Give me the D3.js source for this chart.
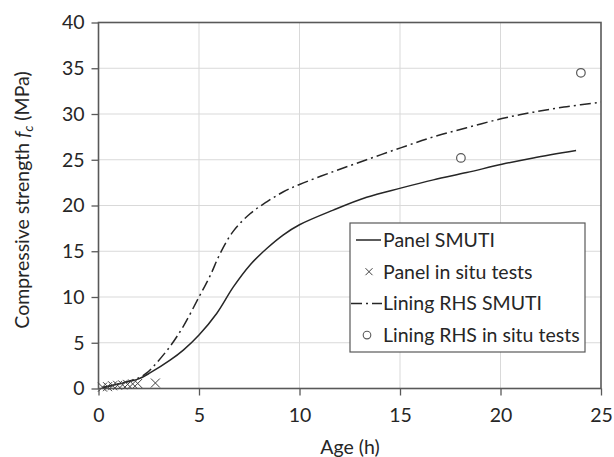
<!DOCTYPE html>
<html>
<head>
<meta charset="utf-8">
<script src="https://cdn.jsdelivr.net/npm/d3@7"></script>
<style>
  body { margin: 0; background: #fff; }
  svg { font-family: Lato, "Open Sans", sans-serif; }
</style>
</head>
<body>
<svg id="chart" width="614" height="457"></svg>
<script>
// Panel SMUTI curve (solid)
const panelHours = [0.2, 0.5, 1, 1.5, 2, 2.56, 3.56, 4.22, 5, 5.88, 6.71, 7.54, 8.37, 9.2, 10, 11.68, 13.34, 15.03, 16.66, 18.32, 20.07, 21.63, 23.76];
const panelValues = [0.1, 0.25, 0.5, 0.75, 1.05, 1.7, 3.1, 4.2, 5.85, 8.2, 11.1, 13.5, 15.3, 16.8, 17.9, 19.5, 20.9, 21.9, 22.8, 23.6, 24.5, 25.2, 26.0];

// Lining RHS SMUTI curve (dash-dot)
const liningHours = [0.2, 0.5, 1, 1.5, 2, 2.4, 2.73, 3.56, 4.22, 5, 5.55, 6.04, 6.71, 7.54, 8.37, 9.2, 10, 11.68, 13.34, 15.03, 16.66, 18.32, 20.07, 21.63, 23.29, 25];
const liningValues = [0.1, 0.25, 0.5, 0.8, 1.15, 1.7, 2.4, 4.6, 6.8, 10.0, 12.3, 14.7, 17.2, 19.1, 20.4, 21.5, 22.3, 23.7, 25.0, 26.3, 27.5, 28.5, 29.5, 30.2, 30.8, 31.3];

// Panel in situ tests (crosses)
const panelTestHours = [0.2, 0.45, 0.7, 0.95, 1.2, 1.45, 1.7, 1.95, 2.83];
const panelTestValues = [0.15, 0.2, 0.3, 0.35, 0.4, 0.45, 0.5, 0.55, 0.6];

// Lining RHS in situ tests (circles)
const liningTestHours = [18.03, 24.0];
const liningTestValues = [25.2, 34.5];

const xTicks = [0, 5, 10, 15, 20, 25];
const yTicks = [0, 5, 10, 15, 20, 25, 30, 35, 40];

const legendItems = ['Panel SMUTI', 'Panel in situ tests', 'Lining RHS SMUTI', 'Lining RHS in situ tests'];

const margin = {top: 22.5, right: 13, bottom: 68.5, left: 98.5};
const svg = d3.select('#chart');
const width = 614 - margin.left - margin.right;
const height = 457 - margin.top - margin.bottom;
const fontSize = '19.5px';

const g = svg.append('g').attr('transform', `translate(${margin.left},${margin.top})`);

const x = d3.scaleLinear().domain([0, 25]).range([0, width]);
const y = d3.scaleLinear().domain([0, 40]).range([height, 0]);

// gridlines
g.append('g').selectAll('line.gx')
    .data(xTicks.slice(1, -1))
    .join('line')
    .attr('x1', d => x(d)).attr('x2', d => x(d))
    .attr('y1', 0).attr('y2', height)
    .attr('stroke', '#d9d9d9').attr('stroke-width', 1);

g.append('g').selectAll('line.gy')
    .data(yTicks.slice(1, -1))
    .join('line')
    .attr('x1', 0).attr('x2', width)
    .attr('y1', d => y(d)).attr('y2', d => y(d))
    .attr('stroke', '#d9d9d9').attr('stroke-width', 1);

// axes
const xAxis = g.append('g')
    .attr('transform', `translate(0,${height})`)
    .call(d3.axisBottom(x).tickValues(xTicks).tickSize(7).tickPadding(13));
const yAxis = g.append('g')
    .call(d3.axisLeft(y).tickValues(yTicks).tickSize(7).tickPadding(7));

[xAxis, yAxis].forEach(a => {
    a.select('.domain').remove();
    a.selectAll('line').attr('stroke', '#595959').attr('stroke-width', 1.3);
    a.selectAll('text').attr('fill', '#262626').style('font-size', fontSize).style('font-family', 'Lato, sans-serif');
});

// frame
g.append('rect')
    .attr('width', width).attr('height', height)
    .attr('fill', 'none').attr('stroke', '#595959').attr('stroke-width', 1.6);

// curves
const line = d3.line().x(d => x(d[0])).y(d => y(d[1])).curve(d3.curveCatmullRom.alpha(0.5));

g.append('path')
    .datum(d3.zip(panelHours, panelValues))
    .attr('d', line)
    .attr('fill', 'none').attr('stroke', '#262626').attr('stroke-width', 1.5);

g.append('path')
    .datum(d3.zip(liningHours, liningValues))
    .attr('d', line)
    .attr('fill', 'none').attr('stroke', '#262626').attr('stroke-width', 1.5)
    .attr('stroke-dasharray', '11,4,2,4');

// crosses
const crossPath = s => `M${-s},${-s}L${s},${s}M${-s},${s}L${s},${-s}`;
g.append('g').selectAll('path')
    .data(d3.zip(panelTestHours, panelTestValues))
    .join('path')
    .attr('transform', d => `translate(${x(d[0])},${y(d[1])})`)
    .attr('d', crossPath(4.5))
    .attr('fill', 'none').attr('stroke', '#404040').attr('stroke-width', 1);

// circles
g.append('g').selectAll('circle')
    .data(d3.zip(liningTestHours, liningTestValues))
    .join('circle')
    .attr('cx', d => x(d[0])).attr('cy', d => y(d[1]))
    .attr('r', 4.3)
    .attr('fill', '#fff').attr('stroke', '#595959').attr('stroke-width', 1.2);

// axis titles
svg.append('text')
    .attr('x', 350).attr('y', 454)
    .attr('text-anchor', 'middle')
    .attr('fill', '#262626')
    .style('font-size', fontSize)
    .text('Age (h)');

const yTitle = svg.append('text')
    .attr('transform', 'translate(29,200) rotate(-90)')
    .attr('text-anchor', 'middle')
    .attr('fill', '#262626')
    .style('font-size', fontSize);
yTitle.append('tspan').text('Compressive strength ');
yTitle.append('tspan').attr('font-style', 'italic').text('f');
yTitle.append('tspan').attr('dy', 4).style('font-size', '13px').attr('font-style', 'italic').text('c');
yTitle.append('tspan').attr('dy', -4).text(' (MPa)');

// legend
const legend = svg.append('g').attr('transform', 'translate(350,223)');
legend.append('rect')
    .attr('width', 235).attr('height', 129)
    .attr('fill', '#fff').attr('stroke', '#595959').attr('stroke-width', 1.2);

const rowY = i => 17 + i * 31.7;
const rows = legend.selectAll('g.row')
    .data(legendItems)
    .join('g')
    .attr('transform', (d, i) => `translate(0,${rowY(i)})`);

rows.append('text')
    .attr('x', 33).attr('y', 7)
    .attr('fill', '#262626')
    .style('font-size', fontSize)
    .text(d => d);

legend.append('line')
    .attr('x1', 6).attr('x2', 31).attr('y1', rowY(0)).attr('y2', rowY(0))
    .attr('stroke', '#262626').attr('stroke-width', 1.5);
legend.append('path')
    .attr('transform', `translate(19,${rowY(1)})`)
    .attr('d', crossPath(3.5))
    .attr('fill', 'none').attr('stroke', '#404040').attr('stroke-width', 1);
legend.append('line')
    .attr('x1', 1).attr('x2', 32).attr('y1', rowY(2)).attr('y2', rowY(2))
    .attr('stroke', '#262626').attr('stroke-width', 1.5)
    .attr('stroke-dasharray', '11,4,2,4');
legend.append('circle')
    .attr('cx', 17).attr('cy', rowY(3)).attr('r', 3.8)
    .attr('fill', '#fff').attr('stroke', '#595959').attr('stroke-width', 1.1);
</script>
</body>
</html>
